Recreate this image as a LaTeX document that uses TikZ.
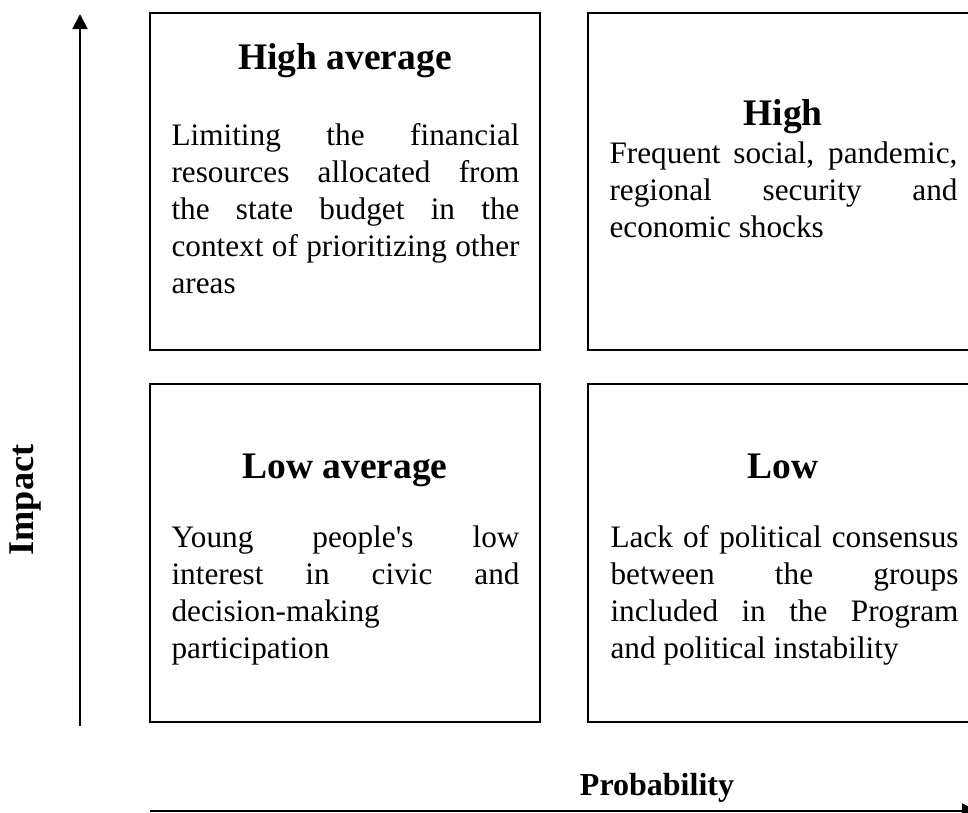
\documentclass[tikz,border=0pt]{standalone}
\usepackage{fontspec}
\setmainfont{Liberation Serif}
\usetikzlibrary{arrows.meta}
\tikzset{
  quad/.style={draw, line width=0.8pt, rectangle, minimum width=156pt, minimum height=134.8pt, inner sep=0pt},
  heading/.style={anchor=base, inner sep=0pt, font=\fontsize{15}{18}\selectfont\bfseries},
  body/.style={anchor=north west, inner sep=0pt, text width=139.2pt, align=justify,
    font=\fontsize{12.5}{14.8}\selectfont, execute at begin node=\strut},
  axislabel/.style={inner sep=0pt, font=\fontsize{14.5}{16}\selectfont\bfseries},
  axis/.style={line width=0.8pt, -{Triangle[width=6pt,length=6pt]}}
}
\begin{document}
\begin{tikzpicture}[x=0.4pt, y=-0.4pt]
\useasboundingbox (0,0) rectangle (968,813);
% the four boxes
\node[quad] (ha) at (345,181.5){};
\node[quad] (hi) at (783,181.5){};
\node[quad] (la) at (345,553){};
\node[quad] (lo) at (783,553){};
% titles
\node[heading] (haT) at (345,70){High average};
\node[heading] (hiT) at (783,125){High};
\node[heading] (laT) at (345,478){Low average};
\node[heading] (loT) at (783,478){Low};
% texts
\node[body] (haB) at (171,119.1){Limiting the financial\linebreak resources allocated from\linebreak the state budget in the\linebreak context of prioritizing other\linebreak areas};
\node[body] (hiB) at (609,137.1){Frequent social, pandemic,\linebreak regional security and\linebreak economic shocks};
\node[body] (laB) at (171,521.1){Young people\textquotesingle s low\linebreak interest in civic and\linebreak decision-making\newline participation};
\node[body] (loB) at (610,521.1){Lack of political consensus\linebreak between the groups\linebreak included in the Program\linebreak and political instability};
% axes
\coordinate (yfoot) at (80,726);
\coordinate (ytop) at (80,14);
\coordinate (xfoot) at (150,811);
\coordinate (xend) at (977,811);
\draw[axis] (yfoot) -- (ytop);
\draw[axis] (xfoot) -- (xend);
\node[axislabel, rotate=90] (imp) at (25,500){Impact};
\node[axislabel, anchor=base, font=\fontsize{12.8}{15}\selectfont\bfseries] (prob) at (657,795){Probability};
\end{tikzpicture}
\end{document}
